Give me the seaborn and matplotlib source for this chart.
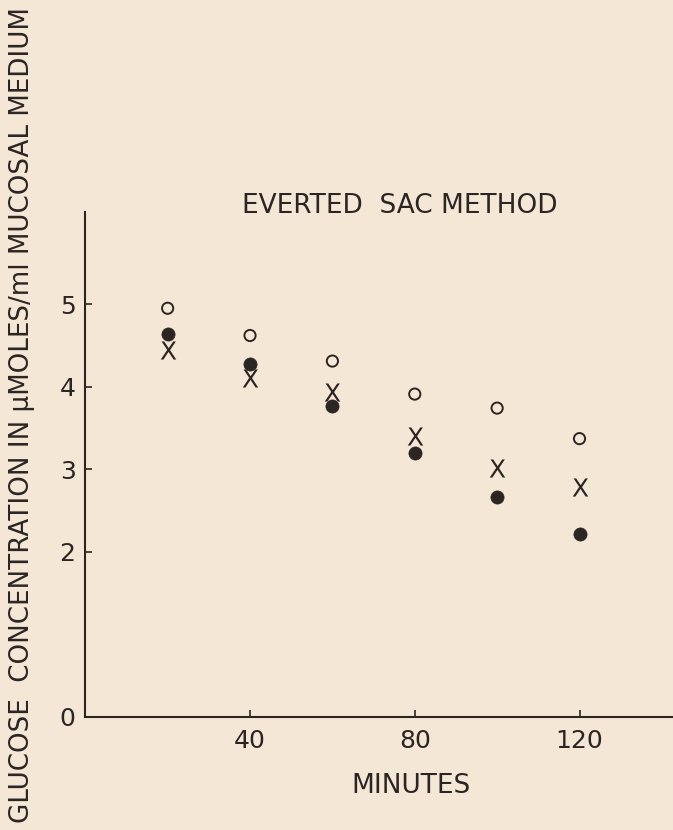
import matplotlib
matplotlib.use("Agg")
import matplotlib.pyplot as plt
import seaborn as sns
import pandas as pd

# values
minutes = [20, 40, 60, 80, 100, 120]
open_circles = [4.95, 4.62, 4.31, 3.91, 3.74, 3.37]
filled_circles = [4.64, 4.27, 3.76, 3.20, 2.66, 2.22]
crosses = [4.45, 4.11, 3.93, 3.40, 3.01, 2.78]

y_ticks = [0, 2, 3, 4, 5]
x_ticks = [40, 80, 120]
x_tick_labels = ["40", "80", "120"]

paper = "#f5e7d6"
ink = "#2b2624"

sns.set_style("ticks")
plt.rcParams["font.family"] = ["DejaVu Sans"]
plt.rcParams["mathtext.fontset"] = "dejavusans"

data = pd.DataFrame({
    "minutes": minutes,
    "open": open_circles,
    "filled": filled_circles,
    "cross": crosses,
})

fig = plt.figure(figsize=(6.73, 8.30), dpi=100, facecolor=paper)
ax = fig.add_axes([0.1267, 0.1365, 0.8733, 0.6084])
ax.set_facecolor(paper)

sns.scatterplot(x="minutes", y="open", data=data, ax=ax, marker="o",
                s=65, facecolor="none", edgecolor=ink, linewidth=1.4)
sns.scatterplot(x="minutes", y="filled", data=data, ax=ax, marker="o",
                s=90, color=ink, edgecolor=ink, linewidth=0.5)
sns.scatterplot(x="minutes", y="cross", data=data, ax=ax,
                marker=r"$\mathsf{X}$", s=170, color=ink, linewidth=0)

ax.set_xlim(0, 142.7)
ax.set_ylim(0, 6.12)
ax.set_xticks(x_ticks)
ax.set_xticklabels(x_tick_labels)
ax.set_yticks(y_ticks)
ax.set_yticklabels([str(v) for v in y_ticks])

ax.tick_params(axis="both", direction="in", length=5, width=1.2,
               colors=ink, labelsize=18)
ax.tick_params(axis="x", pad=9)
ax.tick_params(axis="y", pad=7)

sns.despine(ax=ax)
for side in ["left", "bottom"]:
    ax.spines[side].set_color(ink)
    ax.spines[side].set_linewidth(1.5)

ax.set_xlabel("MINUTES", fontsize=19, color=ink, va="center")
ax.xaxis.set_label_coords(0.554, -0.137)
ax.set_ylabel("GLUCOSE  CONCENTRATION IN \u03bcMOLES/ml MUCOSAL MEDIUM",
              fontsize=18.8, color=ink, va="center")
ax.yaxis.set_label_coords(-0.108, 0.597)

ax.text(0.5355, 1.011, "EVERTED  SAC METHOD", transform=ax.transAxes,
        ha="center", va="center", fontsize=19, color=ink)

fig.savefig("out.png", dpi=100, facecolor=paper)
